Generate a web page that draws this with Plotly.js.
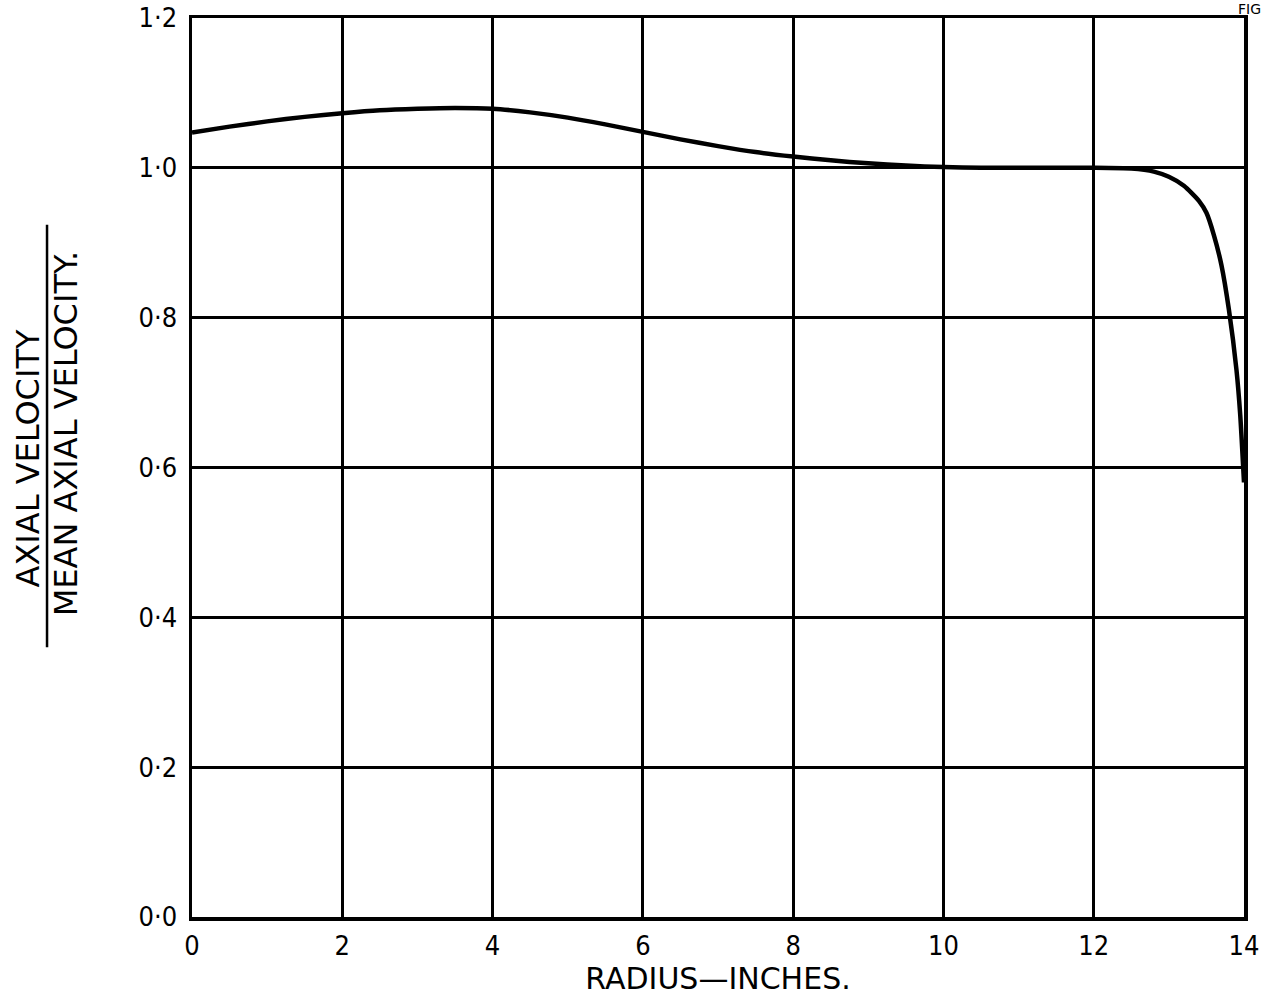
<!DOCTYPE html>
<html>
<head>
<meta charset="utf-8">
<script src="https://cdn.plot.ly/plotly-3.0.1.min.js"></script>
<style>
html,body{margin:0;padding:0;background:#fff;}
#chart{width:1268px;height:1007px;}
</style>
</head>
<body>
<div id="chart"></div>
<script>
// Radius (inches) and axial velocity ratio
const radius = [0, 0.5, 1, 1.5, 2, 2.5, 3, 3.5, 4, 4.5, 5, 5.5, 6, 6.5, 7, 7.5, 8, 8.5, 9, 9.5, 10, 10.5, 11, 11.5, 12, 12.5, 12.8, 13, 13.2, 13.4, 13.5, 13.6, 13.7, 13.8, 13.9, 13.95, 14];
const velocityRatio = [1.047, 1.055, 1.062, 1.068, 1.073, 1.077, 1.079, 1.080, 1.079, 1.074, 1.067, 1.058, 1.048, 1.038, 1.029, 1.021, 1.015, 1.010, 1.006, 1.003, 1.001, 1.000, 1.000, 1.000, 1.000, 0.999, 0.995, 0.988, 0.976, 0.956, 0.940, 0.910, 0.870, 0.810, 0.730, 0.670, 0.580];

const xTickVals = [0, 2, 4, 6, 8, 10, 12, 14];
const xTickText = ["0", "2", "4", "6", "8", "10", "12", "14"];
const yTickVals = [0, 0.2, 0.4, 0.6, 0.8, 1.0, 1.2];
const yTickText = ["0·0", "0·2", "0·4", "0·6", "0·8", "1·0", "1·2"];

const xTitle = "RADIUS—INCHES.";
const yTitleTop = "AXIAL VELOCITY";
const yTitleBottom = "MEAN AXIAL VELOCITY.";
const figLabel = "FIG";

const FONT = "DejaVu Sans Condensed, DejaVu Sans, sans-serif";
const WIDE = "DejaVu Sans, sans-serif";

const trace = {
  x: radius,
  y: velocityRatio,
  type: "scatter",
  mode: "lines",
  line: {color: "#000", width: 4.5, shape: "spline", smoothing: 0.6},
  hoverinfo: "skip"
};

const layout = {
  width: 1268,
  height: 1007,
  margin: {l: 192, r: 24, t: 18, b: 90},
  paper_bgcolor: "#fff",
  plot_bgcolor: "#fff",
  showlegend: false,
  font: {family: FONT, color: "#000", size: 26},
  xaxis: {
    range: [0, 14],
    tickvals: xTickVals,
    ticktext: xTickText,
    showgrid: true,
    gridcolor: "#000",
    gridwidth: 3,
    zeroline: false,
    showline: true,
    linecolor: "#000",
    linewidth: 3.5,
    mirror: true,
    ticks: "",
    ticklabelstandoff: 2,
    tickfont: {family: FONT, size: 27, color: "#000"},
    title: {text: xTitle, font: {family: WIDE, size: 30, color: "#000"}, standoff: 6}
  },
  yaxis: {
    range: [0, 1.2],
    tickvals: yTickVals,
    ticktext: yTickText,
    showgrid: true,
    gridcolor: "#000",
    gridwidth: 3,
    zeroline: false,
    showline: true,
    linecolor: "#000",
    linewidth: 3.5,
    mirror: true,
    ticks: "",
    ticklabelstandoff: 6,
    tickfont: {family: FONT, size: 27, color: "#000"}
  },
  annotations: [
    {
      text: yTitleTop, xref: "paper", yref: "paper",
      x: 0, xshift: -164, y: 0.51, textangle: -90,
      xanchor: "center", yanchor: "middle", showarrow: false,
      font: {family: WIDE, size: 32, color: "#000"}
    },
    {
      text: yTitleBottom, xref: "paper", yref: "paper",
      x: 0, xshift: -126, y: 0.538, textangle: -90,
      xanchor: "center", yanchor: "middle", showarrow: false,
      font: {family: WIDE, size: 32, color: "#000"}
    },
    {
      text: figLabel, xref: "paper", yref: "paper",
      x: 1, xshift: 18, y: 1, yshift: 18,
      xanchor: "right", yanchor: "top", showarrow: false,
      borderpad: 0,
      font: {family: WIDE, size: 14, color: "#000"}
    }
  ],
  shapes: [
    {
      type: "line", xref: "paper", yref: "paper",
      x0: -0.1378, x1: -0.1378, y0: 0.300, y1: 0.770,
      line: {color: "#000", width: 2.5}
    }
  ]
};

Plotly.newPlot("chart", [trace], layout, {displayModeBar: false, staticPlot: true});
</script>
</body>
</html>
